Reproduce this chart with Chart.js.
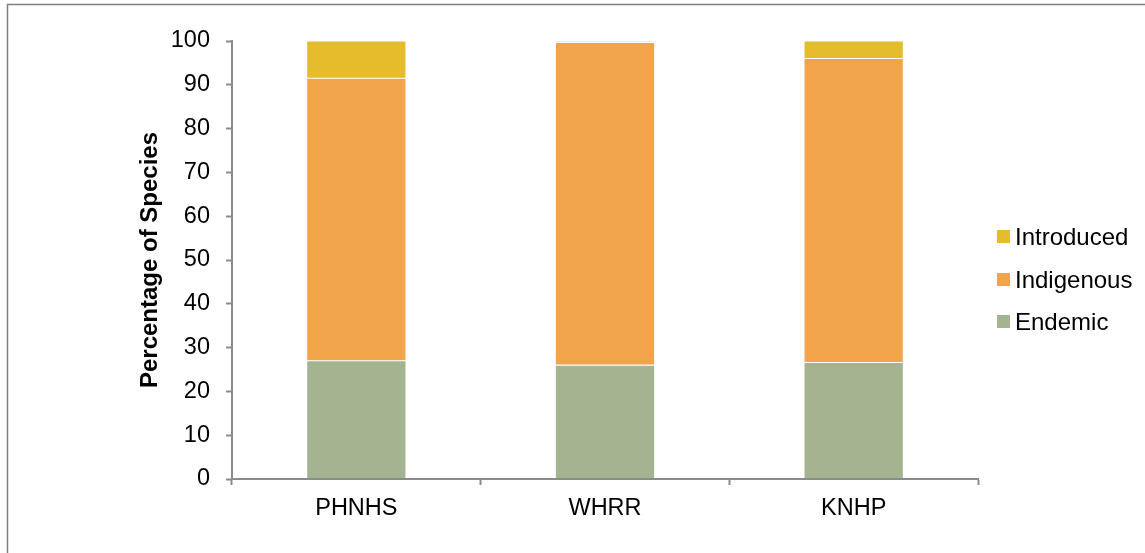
<!DOCTYPE html>
<html>
<head>
<meta charset="utf-8">
<script src="https://cdn.jsdelivr.net/npm/chart.js@4/dist/chart.umd.min.js"></script>
<style>
  html, body { margin: 0; padding: 0; background: #fff; }
  #wrap { width: 1145px; height: 553px; position: relative; }
</style>
</head>
<body>
<div id="wrap"><canvas id="c" width="1145" height="553"></canvas></div>
<script>
// Sites surveyed
const sites = ['PHNHS', 'WHRR', 'KNHP'];

// Percentage of species by origin at each site
const endemic    = [27.0, 26.0, 26.6];
const indigenous = [64.5, 73.7, 69.4];
const introduced = [8.5, 0.3, 4.0];

// Value axis ticks
const yTicks = [0, 10, 20, 30, 40, 50, 60, 70, 80, 90, 100];

const colors = {
  introduced: '#E4BC2C',
  indigenous: '#F2A44A',
  endemic: '#A5B490'
};

const FONT = "'Liberation Sans', Arial, sans-serif";
const AXIS = '#8a8a8a';

// Outer frame of the figure
const framePlugin = {
  id: 'frame',
  beforeDraw(chart) {
    const ctx = chart.ctx;
    ctx.save();
    ctx.strokeStyle = '#7f7f7f';
    ctx.lineWidth = 1.5;
    ctx.beginPath();
    ctx.moveTo(7.5, 560);
    ctx.lineTo(7.5, 4.5);
    ctx.lineTo(1150, 4.5);
    ctx.stroke();
    ctx.restore();
  }
};

// Legend on the right, listed top-down in stack order
const legendPlugin = {
  id: 'sideLegend',
  afterDraw(chart) {
    const ctx = chart.ctx;
    const items = chart.data.datasets.slice().reverse();
    const rowY = [237, 280, 322];
    ctx.save();
    ctx.font = '24px ' + FONT;
    ctx.textBaseline = 'middle';
    ctx.textAlign = 'left';
    items.forEach((ds, i) => {
      const y = rowY[i];
      ctx.fillStyle = ds.backgroundColor;
      ctx.fillRect(997, y - 7, 13, 13);
      ctx.fillStyle = '#000';
      ctx.fillText(ds.label, 1015, y + 1);
    });
    ctx.restore();
  }
};

const segBorder = 'rgba(255,255,255,0.12)';

new Chart(document.getElementById('c'), {
  type: 'bar',
  data: {
    labels: sites,
    datasets: [
      { label: 'Endemic', data: endemic, backgroundColor: colors.endemic },
      { label: 'Indigenous', data: indigenous, backgroundColor: colors.indigenous },
      { label: 'Introduced', data: introduced, backgroundColor: colors.introduced }
    ].map(d => Object.assign(d, {
      borderColor: segBorder,
      borderWidth: 0.6,
      borderSkipped: false,
      barPercentage: 0.4,
      categoryPercentage: 1.0
    }))
  },
  options: {
    responsive: false,
    animation: false,
    devicePixelRatio: 1,
    layout: { padding: { left: 0, top: 41, right: 167, bottom: 0 } },
    plugins: {
      legend: { display: false },
      tooltip: { enabled: false }
    },
    scales: {
      x: {
        stacked: true,
        grid: {
          display: true,
          drawOnChartArea: false,
          drawTicks: true,
          tickLength: 6,
          tickColor: AXIS,
          tickWidth: 2,
          offset: true
        },
        border: { display: true, color: AXIS, width: 2 },
        ticks: {
          color: '#000',
          padding: 9,
          font: { family: FONT, size: 23.5 },
          maxRotation: 0
        },
        afterFit(scale) { scale.height = 553 - 479; }
      },
      y: {
        stacked: true,
        min: 0,
        max: 100,
        afterBuildTicks(scale) { scale.ticks = yTicks.map(v => ({ value: v })); },
        grid: {
          display: true,
          drawOnChartArea: false,
          drawTicks: true,
          tickLength: 6,
          tickColor: AXIS,
          tickWidth: 2
        },
        border: { display: true, color: AXIS, width: 2 },
        ticks: {
          color: '#000',
          padding: 16,
          font: { family: FONT, size: 23.5 }
        },
        title: {
          display: true,
          text: 'Percentage of Species',
          color: '#000',
          font: { family: FONT, size: 24, weight: 'bold' },
          padding: { top: 136, bottom: 0 }
        },
        afterFit(scale) { scale.width = 232; }
      }
    }
  },
  plugins: [framePlugin, legendPlugin]
});
</script>
</body>
</html>
